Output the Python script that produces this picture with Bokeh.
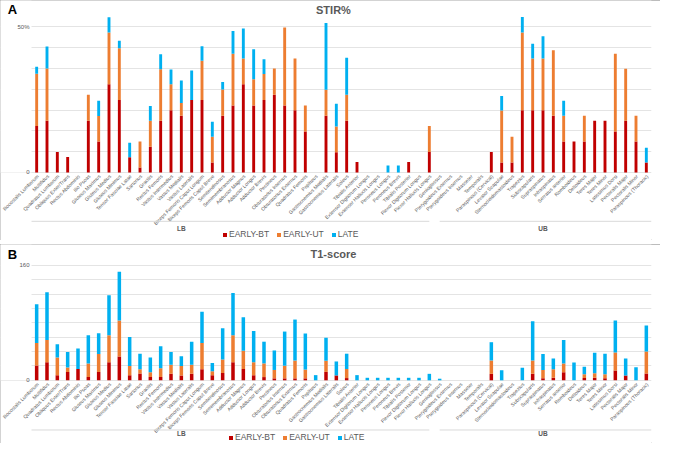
import math
from bokeh.plotting import figure
from bokeh.core.properties import value
from bokeh.models import (ColumnDataSource, FactorRange, Range1d, FixedTicker,
                          Legend, LegendItem, Label, BoxAnnotation)
from bokeh.layouts import column
from bokeh.embed import file_html
from bokeh.resources import INLINE

muscles = [
    "Iliocostalis Lumborum", "Multifidus", "Quadratus Lumborum", "Obliquus Exter/Trans",
    "Rectus Abdominis", "Ilio Psoas", "Gluteus Maximus", "Gluteus Medius", "Gluteus Minimus",
    "Tensor Fasciae Latae", "Sartorius", "Gracilis", "Rectus Femoris", "Vastus Intermedius",
    "Vastus Medialis", "Vastus Lateralis", "Biceps Femoris Caput Longum",
    "Biceps Femoris Caput Breve", "Semitendinosus", "Semimembranosus", "Adductor Magnus",
    "Adductor Longus", "Adductor Brevis", "Pectineus", "Obturatorius Internus",
    "Obturatorius Externus", "Quadratus Femoris", "Popliteus", "Gastrocnemius Medialis",
    "Gastrocnemius Lateralis", "Soleus", "Tibialis Anterior", "Extensor Digitorum Longus",
    "Extensor Hallucis Longus", "Peroneus Longus", "Peroneus Brevis", "Tibialis Posterior",
    "Flexor Digitorum Longus", "Flexor Hallucis Longus",
    "Genioglossus", "Pterygoideus Externus", "Pterygoideus Internus", "Masseter", "Temporalis",
    "Paraspinous (Cervical)", "Levator Scapulae", "Sternocleidomastoideus", "Trapezius",
    "Subscapularis", "Supraspinatus", "Infraspinatus", "Serratus anterior", "Romboideus",
    "Deltoideus", "Teres Major", "Teres Minor", "Latissimus Dorsi", "Pectoralis Major",
    "Pectoralis Minor", "Paraspinous (Thoracic)",
]
group_names = ["LB", "UB"]
group_counts = [39, 21]
group_label_at = ["Vastus Medialis", "Supraspinatus"]   # where the group captions sit
series_names = ["EARLY-BT", "EARLY-UT", "LATE"]

# Panel A: STIR% (percent)
stir_bt = [16.0, 17.8, 7.0, 5.3, 0, 17.8, 10.6, 30.3, 24.9, 5.2,
           1.7, 8.8, 17.8, 21.4, 19.5, 24.9, 24.9, 3.4, 19.5, 23.0,
           30.3, 23.0, 24.9, 26.7, 23.0, 21.4, 14.1, 0, 19.5, 6.9,
           17.8, 3.6, 0, 0, 0, 0, 3.6, 0, 7.0, 0,
           0, 0, 0, 0, 7.0, 3.4, 3.4, 21.4, 21.4, 21.4,
           19.5, 10.6, 10.6, 10.6, 17.8, 17.8, 14.1, 17.8, 10.6, 3.4]
stir_ut = [17.9, 17.9, 0, 0, 0, 8.9, 8.8, 17.8, 17.8, 0,
           8.9, 9.0, 17.7, 8.9, 4.4, 0, 13.5, 8.9, 9.0, 17.8,
           8.9, 9.0, 8.9, 9.0, 26.8, 17.8, 8.9, 0, 8.9, 8.9,
           8.9, 0, 0, 0, 0, 0, 0, 0, 9.0, 0,
           0, 0, 0, 0, 0, 17.9, 8.9, 26.7, 17.8, 17.8,
           22.5, 8.9, 0, 8.9, 0, 0, 26.7, 17.8, 8.9, 0]
stir_late = [2.4, 7.6, 0, 0, 0, 0, 5.2, 5.2, 2.6, 5.0,
             0, 5.0, 5.1, 5.1, 7.7, 10.1, 5.0, 5.1, 2.6, 7.8,
             10.3, 10.3, 5.1, 0, 0, 0, 0, 0, 23.0, 7.8,
             12.7, 0, 0, 0, 2.4, 2.4, 0, 0, 0, 0,
             0, 0, 0, 0, 0, 5.0, 0, 5.3, 5.0, 7.6,
             0, 5.1, 0, 0, 0, 0, 0, 0, 0, 5.1]

# Panel B: T1-score
t1_bt = [20.7, 25.2, 7.2, 11.7, 15.7, 4.5, 11.7, 25.2, 33.0, 7.2,
         9.5, 4.5, 4.5, 9.0, 6.8, 9.0, 15.3, 7.2, 10.3, 25.2,
         15.7, 7.2, 4.5, 2.7, 2.7, 2.7, 2.7, 0, 11.7, 6.8,
         3.1, 0, 0, 0, 0, 0, 0, 0, 0, 0,
         0, 0, 0, 0, 9.0, 0, 0, 0, 9.0, 2.7,
         3.5, 11.3, 0, 3.1, 3.5, 2.7, 13.6, 6.8, 0, 9.5]
t1_ut = [31.2, 30.8, 24.4, 6.0, 0, 19.0, 25.0, 37.6, 50.2, 12.6,
         5.8, 6.8, 12.2, 12.7, 13.0, 12.7, 36.6, 5.4, 18.6, 37.6,
         25.4, 18.0, 19.0, 11.7, 17.6, 24.8, 12.2, 0, 15.5, 0,
         12.6, 0, 0, 0, 0, 0, 0, 0, 0, 0,
         0, 0, 0, 0, 18.6, 0, 0, 0, 18.6, 11.7,
         11.8, 12.2, 0, 5.4, 6.4, 5.8, 25.2, 0, 0, 30.6]
t1_late = [53.8, 66.4, 18.6, 21.7, 28.5, 39.3, 28.9, 55.6, 67.8, 40.3,
           21.7, 20.3, 30.8, 17.6, 13.6, 32.0, 43.4, 11.3, 43.4, 58.7,
           46.5, 43.4, 30.2, 27.1, 47.5, 57.0, 50.2, 7.2, 32.0, 19.4,
           21.3, 7.2, 3.5, 3.5, 3.5, 3.5, 3.5, 3.5, 9.0, 2.2,
           0, 0, 0, 0, 25.4, 14.0, 0, 17.6, 54.6, 22.2,
           14.9, 32.5, 24.8, 10.4, 28.5, 28.5, 44.3, 23.5, 18.0, 36.2]

COLORS = ["#c00000", "#ed7d31", "#00b0f0"]
GRAY = "#595959"
LINE = "#d9d9d9"
FONT = "Liberation Sans"
N_PAD = 3   # empty slots on the left that hold the value labels and panel letter
PAD = [" " * (k + 1) for k in range(N_PAD)]


def panel(letter, title, bt, ut, late, y0, y1, label_ticks, tick_text, grid_ticks,
          height, bar_w, border_right, y_group_line, y_group_text, y_title, legend_x):
    n = len(muscles)
    src = ColumnDataSource(dict(m=muscles, bt=bt, ut=ut, late=late))
    p = figure(x_range=FactorRange(*(PAD + muscles)), y_range=Range1d(y0, y1),
               width=660, height=height, output_backend="svg", toolbar_location=None,
               x_axis_location=None, y_axis_location=None,
               min_border_left=0, min_border_right=border_right,
               min_border_top=0, min_border_bottom=0)
    p.outline_line_color = None
    p.xgrid.grid_line_color = None
    p.ygrid.ticker = FixedTicker(ticks=grid_ticks)
    p.ygrid.grid_line_color = "#e4e4e4"

    rs = p.vbar_stack(["bt", "ut", "late"], x="m", width=bar_w, color=COLORS,
                      line_color=None, source=src)

    # category labels, rotated, hanging under the zero line
    p.text(x="m", y=0, text="m", source=src, angle=math.pi / 4, text_align="right",
           text_baseline="middle", text_font=value(FONT), text_font_size="5px",
           text_color=GRAY, x_offset=1, y_offset=3)

    # group separators and captions
    starts, ends = [], []
    acc = 0
    for c in group_counts:
        starts.append(N_PAD + acc + (0.5 if acc > 0 else 0.0))
        acc += c
        ends.append(N_PAD + acc - (0.5 if acc < n else 0.0))
    p.segment(x0=starts, y0=[y_group_line] * 2, x1=ends, y1=[y_group_line] * 2,
              line_color=LINE, line_width=1)
    p.text(x=group_label_at, y=[y_group_text] * 2, text=group_names, text_align="center",
           text_baseline="middle", text_font=value(FONT), text_font_size="6.5px",
           text_font_style="bold", text_color=GRAY)

    # keep the gridlines out of the value-label margin
    p.add_layout(BoxAnnotation(right=N_PAD, bottom=0, fill_color="white", fill_alpha=1,
                               line_color=None))
    for t, s in zip(label_ticks, tick_text):
        p.add_layout(Label(x=N_PAD, y=t, x_offset=-2, text=s, text_align="right",
                           text_baseline="middle", text_font=FONT, text_font_size="6px",
                           text_color=GRAY))

    legend = Legend(items=[LegendItem(label=value(s), renderers=[r])
                           for s, r in zip(series_names, rs)],
                    orientation="horizontal", location=(legend_x, 1),
                    label_text_font=FONT, label_text_font_size="8.5px",
                    label_text_color=GRAY,
                    glyph_width=5, glyph_height=5, spacing=7, padding=0, margin=0,
                    label_standoff=2, label_height=9, border_line_color=None,
                    background_fill_alpha=0)
    p.add_layout(legend, "center")

    p.add_layout(Label(x=N_PAD + n * 0.487, y=y_title, text=title, text_align="center",
                       text_baseline="middle", text_font=FONT, text_font_size="11px",
                       text_font_style="bold", text_color=GRAY))
    p.add_layout(Label(x=0.7, y=y_title, text=letter, text_align="left",
                       text_baseline="middle", text_font=FONT, text_font_size="13px",
                       text_font_style="bold", text_color="black"))
    p.styles = {"outline": "1px solid #a6a6a6", "outline-offset": "-1px"}
    return p


pA = panel("A", "STIR%", stir_bt, stir_ut, stir_late, -23.4, 59.1, [0, 50], ["0", "50%"],
           [50 * k / 7 for k in range(8)], 240, 0.28, 9, -16.8, -19.4, 56.0, 222)
pB = panel("B", "T1-score", t1_bt, t1_ut, t1_late, -87.9, 188.9, [0, 160], ["0", "160"],
           [20 * k for k in range(9)], 199, 0.34, 3, -69.1, -74.1, 175.3, 228)

layout = column(pA, pB, spacing=4)
open("out.html", "w").write(file_html(layout, INLINE))
